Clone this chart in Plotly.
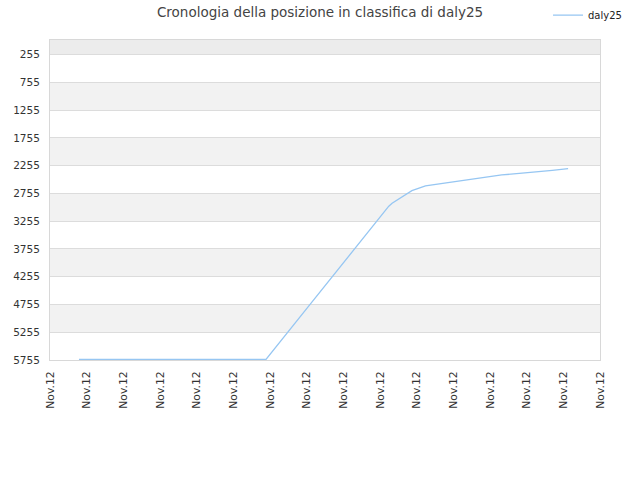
import plotly.graph_objects as go

# Data
tick_labels = ["Nov.12"] * 16
tick_positions = list(range(16))
y_ticks = [255, 755, 1255, 1755, 2255, 2755, 3255, 3755, 4255, 4755, 5255, 5755]

series_name = "daly25"
pos_x = [0.79, 5.89, 7.0, 8.0, 9.05, 9.24, 9.33, 9.6, 9.87, 10.24, 10.6, 11.1,
         11.42, 11.9, 12.32, 12.8, 13.23, 13.7, 14.13]
rank = [5745, 5745, 4830, 4010, 3140, 2985, 2932, 2813, 2705, 2620, 2584, 2543,
        2510, 2460, 2422, 2395, 2373, 2340, 2309]

y_top = -8
y_bottom = 5755

fig = go.Figure()
fig.add_trace(go.Scatter(
    x=pos_x, y=rank, mode="lines", name=series_name,
    line=dict(color="#96c6f2", width=1.3),
))

# alternating bands
shapes = []
edges = [y_top] + y_ticks
for i in range(len(edges) - 1):
    if i == 0:
        col = "#ececec"
    elif i % 2 == 0:
        col = "#f2f2f2"
    else:
        col = "#ffffff"
    shapes.append(dict(type="rect", xref="paper", yref="y", x0=0, x1=1,
                       y0=edges[i], y1=edges[i + 1], fillcolor=col,
                       line=dict(width=0), layer="below"))

fig.update_layout(
    width=640, height=480,
    margin=dict(l=50, r=40, t=40, b=120, autoexpand=False),
    paper_bgcolor="white", plot_bgcolor="white",
    font=dict(family="DejaVu Sans", size=11, color="#333333"),
    title=dict(text="Cronologia della posizione in classifica di daly25",
               x=0.5, xref="container", xanchor="center",
               y=0.975, yref="container", yanchor="middle",
               font=dict(size=13.5, color="#444444")),
    showlegend=True,
    legend=dict(x=0.9055, y=1.078, xanchor="left", yanchor="middle",
                xref="paper", yref="paper", bgcolor="rgba(0,0,0,0)",
                font=dict(size=10, color="#222222")),
    shapes=shapes,
    xaxis=dict(range=[0, 15], tickmode="array", tickvals=tick_positions,
               ticktext=tick_labels, tickangle=-90, showgrid=False,
               showline=True, linecolor="#d8d8d8", mirror=True, zeroline=False,
               ticks="", automargin=False, ticklabelstandoff=6,
               tickfont=dict(size=10.8, color="#333333")),
    yaxis=dict(range=[y_bottom, y_top], tickmode="array", tickvals=y_ticks,
               showgrid=True, gridcolor="#dcdcdc", gridwidth=1,
               showline=True, linecolor="#d8d8d8", mirror=True, zeroline=False,
               ticks="", automargin=False, ticklabelstandoff=7,
               tickfont=dict(size=10.5, color="#333333")),
)

fig.write_html("out.html", config={"displayModeBar": False},
               post_script="document.body.style.margin='0';document.body.style.padding='0';")
